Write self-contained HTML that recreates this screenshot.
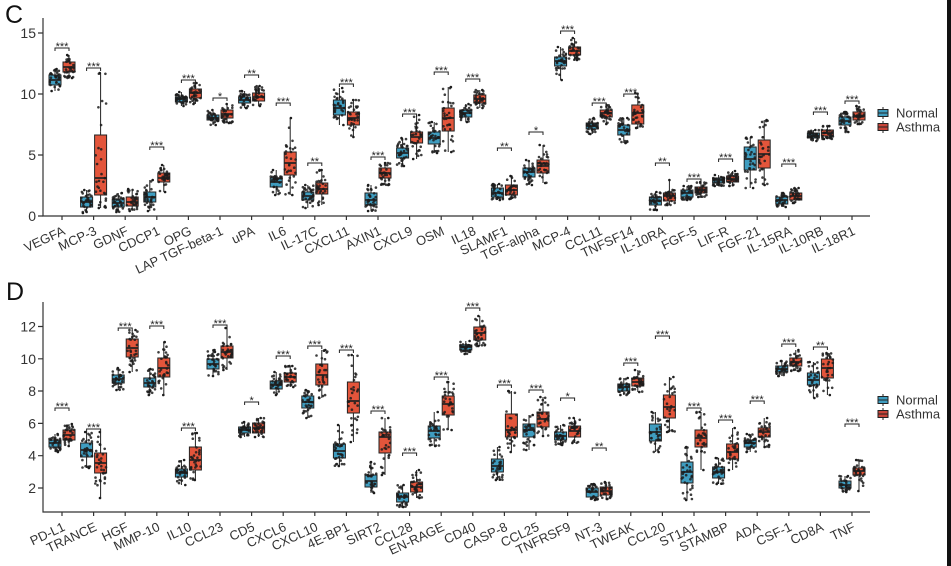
<!DOCTYPE html>
<html><head><meta charset="utf-8">
<style>
html,body{margin:0;padding:0;background:#fff;}
svg{display:block;font-family:"Liberation Sans",Arial,sans-serif;}
</style></head>
<body>
<svg id="s" width="951" height="566" viewBox="0 0 951 566" xmlns="http://www.w3.org/2000/svg">
<rect width="951" height="566" fill="#fff"/>
<rect x="947" y="0" width="4" height="566" fill="#111"/>
<text x="5" y="23" font-size="25" fill="#111">C</text>
<text x="6" y="300" font-size="25" fill="#111">D</text>

<g stroke="#333" stroke-width="1.2" fill="none">
<path d="M43 18V216H870"/>
<path d="M38 33H43M38 94H43M38 155H43M38 216H43"/>
<path d="M43 302V512H870"/>
<path d="M38 488H43M38 455.7H43M38 423.4H43M38 391H43M38 358.8H43M38 326.5H43"/>
</g>
<g id="ticks" stroke="#333" stroke-width="1.2"></g>

<g font-size="14" fill="#333" text-anchor="end">
<text x="36" y="38">15</text><text x="36" y="99">10</text><text x="36" y="160">5</text><text x="36" y="221">0</text>
<text x="36" y="493">2</text><text x="36" y="460.7">4</text><text x="36" y="428.4">6</text><text x="36" y="396">8</text><text x="36" y="363.8">10</text><text x="36" y="331.5">12</text>
</g>

<g font-size="13" fill="#333" text-anchor="end">
<text transform="translate(66,234) rotate(-25)">VEGFA</text>
<text transform="translate(97.6,234) rotate(-25)">MCP-3</text>
<text transform="translate(129.2,234) rotate(-25)">GDNF</text>
<text transform="translate(160.8,234) rotate(-25)">CDCP1</text>
<text transform="translate(192.4,234) rotate(-25)">OPG</text>
<text transform="translate(224,234) rotate(-25)">LAP TGF-beta-1</text>
<text transform="translate(255.6,234) rotate(-25)">uPA</text>
<text transform="translate(287.2,234) rotate(-25)">IL6</text>
<text transform="translate(318.8,234) rotate(-25)">IL-17C</text>
<text transform="translate(350.4,234) rotate(-25)">CXCL11</text>
<text transform="translate(382,234) rotate(-25)">AXIN1</text>
<text transform="translate(413.6,234) rotate(-25)">CXCL9</text>
<text transform="translate(445.2,234) rotate(-25)">OSM</text>
<text transform="translate(476.8,234) rotate(-25)">IL18</text>
<text transform="translate(508.4,234) rotate(-25)">SLAMF1</text>
<text transform="translate(540,234) rotate(-25)">TGF-alpha</text>
<text transform="translate(571.6,234) rotate(-25)">MCP-4</text>
<text transform="translate(603.2,234) rotate(-25)">CCL11</text>
<text transform="translate(634.8,234) rotate(-25)">TNFSF14</text>
<text transform="translate(666.4,234) rotate(-25)">IL-10RA</text>
<text transform="translate(698,234) rotate(-25)">FGF-5</text>
<text transform="translate(729.6,234) rotate(-25)">LIF-R</text>
<text transform="translate(761.2,234) rotate(-25)">FGF-21</text>
<text transform="translate(792.8,234) rotate(-25)">IL-15RA</text>
<text transform="translate(824.4,234) rotate(-25)">IL-10RB</text>
<text transform="translate(856,234) rotate(-25)">IL-18R1</text>

<text transform="translate(66,530) rotate(-25)">PD-L1</text>
<text transform="translate(97.6,530) rotate(-25)">TRANCE</text>
<text transform="translate(129.2,530) rotate(-25)">HGF</text>
<text transform="translate(160.8,530) rotate(-25)">MMP-10</text>
<text transform="translate(192.4,530) rotate(-25)">IL10</text>
<text transform="translate(224,530) rotate(-25)">CCL23</text>
<text transform="translate(255.6,530) rotate(-25)">CD5</text>
<text transform="translate(287.2,530) rotate(-25)">CXCL6</text>
<text transform="translate(318.8,530) rotate(-25)">CXCL10</text>
<text transform="translate(350.4,530) rotate(-25)">4E-BP1</text>
<text transform="translate(382,530) rotate(-25)">SIRT2</text>
<text transform="translate(413.6,530) rotate(-25)">CCL28</text>
<text transform="translate(445.2,530) rotate(-25)">EN-RAGE</text>
<text transform="translate(476.8,530) rotate(-25)">CD40</text>
<text transform="translate(508.4,530) rotate(-25)">CASP-8</text>
<text transform="translate(540,530) rotate(-25)">CCL25</text>
<text transform="translate(571.6,530) rotate(-25)">TNFRSF9</text>
<text transform="translate(603.2,530) rotate(-25)">NT-3</text>
<text transform="translate(634.8,530) rotate(-25)">TWEAK</text>
<text transform="translate(666.4,530) rotate(-25)">CCL20</text>
<text transform="translate(698,530) rotate(-25)">ST1A1</text>
<text transform="translate(729.6,530) rotate(-25)">STAMBP</text>
<text transform="translate(761.2,530) rotate(-25)">ADA</text>
<text transform="translate(792.8,530) rotate(-25)">CSF-1</text>
<text transform="translate(824.4,530) rotate(-25)">CD8A</text>
<text transform="translate(856,530) rotate(-25)">TNF</text>
</g>

<g id="plot"></g>

<!-- legends -->
<g stroke="#222" stroke-width="1">
<line x1="883" y1="107" x2="883" y2="119"/><rect x="878" y="109.5" width="10" height="7" fill="#3f9dc0"/><line x1="878" y1="113" x2="888" y2="113"/>
<line x1="883" y1="121" x2="883" y2="133"/><rect x="878" y="123.5" width="10" height="7" fill="#c8453a"/><line x1="878" y1="127" x2="888" y2="127"/>
<line x1="883" y1="394" x2="883" y2="406"/><rect x="878" y="396.5" width="10" height="7" fill="#3f9dc0"/><line x1="878" y1="400" x2="888" y2="400"/>
<line x1="883" y1="408" x2="883" y2="420"/><rect x="878" y="410.5" width="10" height="7" fill="#c8453a"/><line x1="878" y1="414" x2="888" y2="414"/>
</g>
<g font-size="13" fill="#333">
<text x="896" y="117.5">Normal</text><text x="896" y="131.5">Asthma</text>
<text x="896" y="404.5">Normal</text><text x="896" y="418.5">Asthma</text>
</g>

<g id="stars" font-size="11" fill="#222" text-anchor="middle"></g>
</svg>

<script>
(function(){
const NS="http://www.w3.org/2000/svg";
const plot=document.getElementById('plot');
const starsG=document.getElementById('stars');
const ticks=document.getElementById('ticks');
function el(tag,attrs,parent){const e=document.createElementNS(NS,tag);for(const k in attrs)e.setAttribute(k,attrs[k]);parent.appendChild(e);return e;}
let seed=987654;
function rnd(){seed=(seed*16807)%2147483647;return (seed-1)/2147483646;}
function gauss(){let u=0;while(u===0)u=rnd();const v=rnd();return Math.sqrt(-2*Math.log(u))*Math.cos(2*Math.PI*v);}
const TEAL="#3f9dc0", RED="#e3553b";

const C=[
[75,85,80,69,91, 62,72,67,55,78,"***",48],
[197,207,202,190,213, 135,195,178,73,208,"***",68],
[199,207,203,193,212, 197,206,202,189,211,"",0],
[192,202,197,180,211, 173,182,178,165,192,"***",147],
[97,102,99,92,106, 89,98,93,83,104,"***",80],
[115,120,118,110,125, 110,118,114,104,123,"*",98],
[97,103,100,91,108, 93,101,97,86,106,"**",75],
[178,187,182,170,195, 152,175,163,118,195,"***",103],
[192,200,196,185,208, 183,194,189,170,205,"**",163],
[100,115,108,88,125, 112,125,118,100,137,"***",84],
[193,205,200,185,211, 168,178,173,163,185,"***",157],
[148,158,153,138,166, 132,143,137,115,159,"***",114],
[132,144,138,122,153, 108,131,118,87,152,"***",72],
[110,117,113,104,122, 95,103,99,90,108,"***",79],
[188,197,193,184,200, 185,195,190,176,199,"**",148],
[168,177,172,160,185, 160,173,166,145,183,"*",132],
[57,66,61,47,80, 47,55,51,38,60,"***",31],
[123,129,126,118,134, 110,117,113,105,124,"***",103],
[125,135,130,118,143, 105,124,113,93,128,"***",94],
[197,205,201,192,210, 193,201,196,180,205,"**",163],
[190,197,193,186,200, 187,193,190,182,197,"***",179],
[178,183,180,175,186, 176,182,179,171,186,"***",159],
[147,170,159,137,188, 140,168,154,120,185,"",0],
[197,204,200,193,207, 193,200,196,188,203,"***",164],
[133,138,136,130,141, 130,136,133,126,139,"***",112],
[117,125,121,112,132, 112,120,116,106,124,"***",101]
];
const D=[
[440,447,443,434,452, 430,440,435,424,446,"***",408],
[443,457,450,432,468, 453,473,463,432,498,"***",429],
[375,383,379,368,390, 339,357,348,330,372,"***",328],
[378,387,383,369,395, 358,377,368,342,395,"***",326],
[469,477,473,460,485, 447,470,460,433,480,"***",428],
[359,369,364,350,376, 346,358,352,328,370,"***",325],
[427,433,430,422,437, 423,433,428,418,437,"*",402],
[381,389,385,372,395, 373,382,377,366,387,"***",356],
[396,408,402,390,418, 364,385,375,350,398,"***",346],
[444,458,451,425,466, 382,413,401,355,442,"***",350],
[475,487,481,462,493, 432,453,437,418,475,"***",411],
[493,502,497,485,507, 482,492,487,470,498,"***",453],
[426,438,431,412,446, 396,415,404,382,430,"***",377],
[345,350,347,341,354, 327,340,333,316,346,"***",308],
[459,472,466,447,480, 414,437,430,391,452,"***",385],
[424,437,430,415,450, 412,427,419,397,436,"***",390],
[432,440,436,425,445, 426,437,431,418,443,"*",398],
[488,497,492,484,500, 487,495,491,482,499,"**",448],
[384,391,387,378,395, 378,386,382,370,392,"***",363],
[424,441,432,412,452, 395,418,407,377,432,"***",336],
[462,483,472,447,500, 430,447,438,412,470,"***",408],
[467,478,472,458,484, 444,459,452,428,470,"***",420],
[440,447,443,434,452, 428,437,432,418,447,"***",401],
[366,372,369,361,376, 358,366,362,350,371,"***",344],
[373,385,380,362,398, 359,378,368,353,395,"**",347],
[481,488,485,476,492, 468,475,471,460,491,"***",424]
];

function drawBox(cx,b,fill){
  const top=b[0],bot=b[1],med=b[2],wt=b[3],wb=b[4],w=12;
  el('line',{x1:cx,x2:cx,y1:wt,y2:top,stroke:'#222','stroke-width':1},plot);
  el('line',{x1:cx,x2:cx,y1:bot,y2:wb,stroke:'#222','stroke-width':1},plot);
  el('rect',{x:cx-w/2,y:top,width:w,height:Math.max(bot-top,1),fill:fill,stroke:'#222','stroke-width':1},plot);
  el('line',{x1:cx-w/2,x2:cx+w/2,y1:med,y2:med,stroke:'#222','stroke-width':1.7},plot);
  const n=30;
  const sdU=(med-top)/0.675, sdD=(bot-med)/0.675;
  for(let k=0;k<n;k++){
    let z=gauss(); let y=z<0?med+z*sdU:med+z*sdD;
    if(y<wt)y=wt+rnd()*2; if(y>wb)y=wb-rnd()*2;
    const x=cx+(rnd()-0.5)*11;
    el('circle',{cx:x.toFixed(1),cy:y.toFixed(1),r:1.3,fill:'#1c1c1c','fill-opacity':0.85},plot);
  }
  el('circle',{cx:(cx+(rnd()-0.5)*8).toFixed(1),cy:wt,r:1.3,fill:'#1c1c1c'},plot);
  el('circle',{cx:(cx+(rnd()-0.5)*8).toFixed(1),cy:wb,r:1.3,fill:'#1c1c1c'},plot);
}
function panel(data,axisY){
  data.forEach((d,i)=>{
    const x=62+31.6*i;
    el('line',{x1:x,x2:x,y1:axisY,y2:axisY+4},ticks);
    drawBox(x-7,d.slice(0,5),TEAL);
    drawBox(x+7,d.slice(5,10),RED);
    if(d[10]){
      const br=d[11];
      el('path',{d:`M${x-7} ${br+3}V${br}H${x+7}V${br+3}`,stroke:'#222','stroke-width':1,fill:'none'},plot);
      const t=el('text',{x:x,y:br+2},starsG); t.textContent=d[10];
    }
  });
}
panel(C,216);
panel(D,512);
})();
</script>
</body></html>
